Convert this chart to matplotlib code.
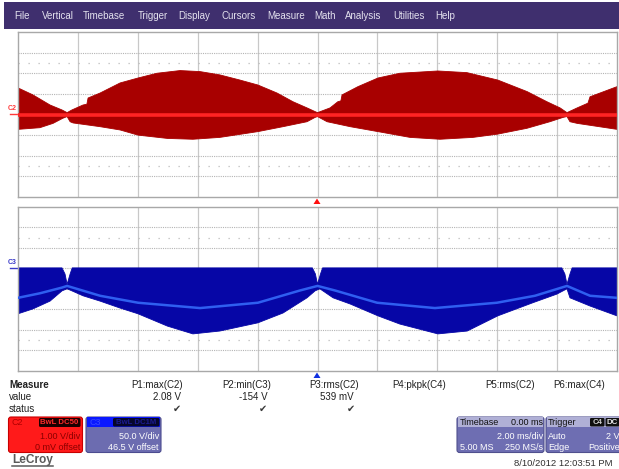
import matplotlib
matplotlib.use("Agg")
import matplotlib.pyplot as plt
from matplotlib.patches import Rectangle, FancyBboxPatch, Polygon

plt.rcParams['font.family'] = ['Liberation Sans', 'DejaVu Sans']

# ---------------- data ----------------
menu_items = ["File", "Vertical", "Timebase", "Trigger", "Display", "Cursors",
              "Measure", "Math", "Analysis", "Utilities", "Help"]

# C2 envelope (time in ms, volts), 1 V/div
c2_up_t = [-10.0, -9.5, -8.93, -8.53, -8.36, -8.20, -7.83, -7.70, -7.66, -7.26, -6.59, -5.99,
           -5.36, -4.59, -3.92, -3.26, -2.59, -1.99, -1.35, -0.82, -0.35, -0.08, 0.0, 0.42,
           0.68, 0.78, 0.82, 1.35, 2.02, 2.75, 4.02, 4.99, 6.02, 7.0, 7.66, 8.10, 8.33, 8.67,
           9.03, 9.10, 10.0]
c2_up_v = [1.29, 0.95, 0.46, 0.22, 0.09, 0.22, 0.46, 0.50, 0.80, 1.04, 1.53, 1.77,
           2.00, 2.13, 2.08, 1.92, 1.67, 1.43, 1.04, 0.62, 0.32, 0.14, 0.09, 0.32,
           0.62, 0.66, 0.95, 1.35, 1.77, 2.00, 2.11, 2.03, 1.67, 1.11, 0.62, 0.32, 0.09, 0.32,
           0.55, 0.86, 1.35]
c2_lo_t = [-10.0, -9.27, -8.83, -8.50, -8.36, -8.26, -8.16, -7.26, -6.59, -5.99, -5.01, -4.16,
           -3.26, -1.99, -1.15, -0.35, -0.08, 0.0, 0.32, 1.09, 2.02, 3.09, 4.09, 5.19, 6.02,
           6.99, 7.76, 8.20, 8.33, 8.43, 8.67, 10.0]
c2_lo_v = [-0.72, -0.64, -0.43, -0.18, -0.10, -0.35, -0.41, -0.59, -0.75, -1.00, -1.16, -1.20,
           -1.11, -0.83, -0.59, -0.35, -0.14, -0.10, -0.35, -0.59, -0.83, -1.11, -1.20, -1.11,
           -0.95, -0.67, -0.35, -0.14, -0.10, -0.35, -0.43, -0.72]

# C3 envelope (time in ms, volts), 50 V/div, 46.5 V offset
c3_up_t = [-10.0, -8.53, -8.43, -8.36, -8.26, -8.19, -0.17, -0.07, 0.0, 0.10, 0.17,
           8.16, 8.26, 8.33, 8.43, 8.50, 10.0]
c3_up_v = [5, 5, -10, -35, -10, 5, 5, -10, -35, -10, 5,
           5, -10, -35, -10, 5, 5]
c3_lo_t = [-10.0, -9.50, -8.93, -8.53, -8.36, -8.20, -7.83, -7.26, -6.59, -5.99, -5.01, -4.16,
           -3.26, -1.99, -1.15, -0.35, -0.08, 0.08, 0.52, 1.09, 2.02, 2.75, 4.02, 5.0, 6.02,
           7.19, 7.99, 8.33, 8.43, 9.10, 10.0]
c3_lo_v = [-107, -95, -76, -51, -46, -51, -63, -76, -93, -107, -137, -156,
           -149, -129, -105, -68, -51, -46, -68, -83, -112, -132, -156, -149, -112,
           -80, -59, -46, -68, -88, -112]
c3_mean_t = [-10.0, -9.27, -8.53, -8.36, -7.26, -5.99, -3.92, -1.99, -0.58, 0.0, 0.58,
             1.99, 3.92, 5.99, 7.26, 8.33, 9.10, 10.0]
c3_mean_v = [-68, -57, -43, -39, -63, -80, -93, -80, -50, -39, -50,
             -80, -93, -80, -63, -39, -63, -68]

meas_headers = ["P1:max(C2)", "P2:min(C3)", "P3:rms(C2)", "P4:pkpk(C4)", "P5:rms(C2)", "P6:max(C4)"]
meas_values = ["2.08 V", "-154 V", "539 mV", "", "", ""]
meas_status = [True, True, True, False, False, False]

# ---------------- figure ----------------
W, H = 619, 469
fig = plt.figure(figsize=(W / 100, H / 100), dpi=100)
fig.patch.set_facecolor("white")

bg = fig.add_axes([0, 0, 1, 1])
bg.set_xlim(0, W)
bg.set_ylim(H, 0)
bg.axis("off")

# menu bar
bg.add_patch(Rectangle((4, 2), W - 4, 27, facecolor="#3f2f6e", edgecolor="none"))
menu_x = [13.8, 42.2, 82.9, 137.4, 178.4, 221, 266.9, 314.3, 345.4, 392.8, 435.5]
for x, s in zip(menu_x, menu_items):
    bg.text(x, 16, s, color="#e4e2ee", fontsize=7.0, va="center", ha="left")


def scope_axes(top, bottom):
    ax = fig.add_axes([18 / W, 1 - bottom / H, (617 - 18) / W, (bottom - top) / H])
    ax.set_facecolor("white")
    ax.set_xticks([])
    ax.set_yticks([])
    for sp in ax.spines.values():
        sp.set_color("#a8a8a8")
        sp.set_linewidth(1.0)
    return ax


def draw_grid(ax, y0, ydiv):
    for k in range(1, 10):
        ax.axvline(-10 + 2 * k, color="#c8c8c8", lw=0.9, zorder=0)
    for k in range(1, 8):
        ax.axhline(y0 + (k - 4) * ydiv, color="#b4b4b4", lw=0.8,
                   linestyle=(0, (1, 1)), zorder=0)
    for k in (-2.5, 2.5):
        ax.axhline(y0 + k * ydiv, color="#bcbcbc", lw=0.9,
                   linestyle=(0, (1, 7)), zorder=0)


# top plot (C2)
ax1 = scope_axes(32, 197)
ax1.set_xlim(-10, 10)
ax1.set_ylim(-4, 4)
draw_grid(ax1, 0, 1)
ax1.fill(c2_up_t + c2_lo_t[::-1], c2_up_v + c2_lo_v[::-1],
         facecolor="#a80000", edgecolor="#a80000", lw=0.6, zorder=2)
ax1.axhline(0, color="#ff2424", lw=2.6, zorder=3)

# bottom plot (C3)
ax2 = scope_axes(207, 371)
ax2.set_xlim(-10, 10)
ax2.set_ylim(-200 - 46.5, 200 - 46.5)
draw_grid(ax2, -46.5, 50)
ax2.fill(c3_up_t + c3_lo_t[::-1], c3_up_v + c3_lo_v[::-1],
         facecolor="#0606a6", edgecolor="#0606a6", lw=0.6, zorder=2)
ax2.plot(c3_mean_t, c3_mean_v, color="#2f5ff0", lw=1.8, zorder=3)

# channel markers
bg.text(8, 109, "C2", color="#ff3a3a", fontsize=5, fontweight="bold", va="center")
bg.plot([10, 17], [114.5, 114.5], color="#ff3a3a", lw=1)
bg.text(8, 263, "C3", color="#3a3ac8", fontsize=5, fontweight="bold", va="center")
bg.plot([10, 17], [268.5, 268.5], color="#3a3ac8", lw=1)

# trigger markers
bg.add_patch(Polygon([[313.5, 204], [320.5, 204], [317, 198.5]], closed=True,
                     facecolor="#ff1010", edgecolor="none"))
bg.add_patch(Polygon([[313.5, 378], [320.5, 378], [317, 372.5]], closed=True,
                     facecolor="#1030e0", edgecolor="none"))

# measurement table
fs = 7
bg.text(9, 385, "Measure", fontsize=fs, fontweight="bold", va="center", color="#202020")
bg.text(9, 397, "value", fontsize=fs, va="center", color="#202020")
bg.text(9, 409, "status", fontsize=fs, va="center", color="#202020")
head_left = [131, 222, 309, 392, 485, 553]
val_right = [181, 268, 354]
chk_x = [177, 263, 351]
for i, h in enumerate(meas_headers):
    bg.text(head_left[i], 385, h, fontsize=fs, va="center", ha="left", color="#202020")
    if meas_values[i]:
        bg.text(val_right[i], 397, meas_values[i], fontsize=fs, va="center", ha="right",
                color="#202020")
    if meas_status[i]:
        bg.text(chk_x[i], 409, "\u2714", fontsize=7, va="center", ha="center",
                color="#3a3a3a", family="DejaVu Sans")


def rbox(x, y, w, h, fc, ec="none", r=2.5, z=1):
    bg.add_patch(FancyBboxPatch((x, y), w, h, boxstyle=f"round,pad=0,rounding_size={r}",
                                facecolor=fc, edgecolor=ec, lw=0.8, zorder=z))


bfs = 6.5
# C2 box
rbox(8.5, 417, 74, 35.5, "#ff1a1a", "#c80000")
rbox(39, 418, 41.5, 9, "#1a0000", r=1.5, z=2)
bg.text(12, 422.5, "C2", fontsize=bfs, color="#b00000", va="center", zorder=3)
bg.text(59.5, 422.5, "BwL DC50", fontsize=5.6, color="#ff2a2a", va="center", ha="center",
        fontweight="bold", zorder=3)
bg.text(80.5, 436.5, "1.00 V/div", fontsize=bfs, color="#8a0000", va="center", ha="right", zorder=3)
bg.text(80.5, 447, "0 mV offset", fontsize=bfs, color="#8a0000", va="center", ha="right", zorder=3)

# C3 box
rbox(86, 417, 75, 35.5, "#6c6cb0", "#4c4c90")
bg.add_patch(Rectangle((87, 417.5), 73, 9.5, facecolor="#0a18ff", edgecolor="none", zorder=2))
rbox(113, 418, 46.5, 8.5, "#06062a", r=1.5, z=2)
bg.text(90, 422.5, "C3", fontsize=bfs, color="#3848ff", va="center", zorder=3)
bg.text(136, 422.5, "BwL DC1M", fontsize=5.6, color="#1a1a90", va="center", ha="center",
        fontweight="bold", zorder=3)
bg.text(159, 436.5, "50.0 V/div", fontsize=bfs, color="white", va="center", ha="right", zorder=3)
bg.text(159, 447, "46.5 V offset", fontsize=bfs, color="white", va="center", ha="right", zorder=3)

# LeCroy logo
bg.text(12, 460.5, "LeCroy", fontsize=8.6, fontweight="bold", color="#5a5a5a", va="center")
bg.plot([12, 53], [466.5, 466.5], color="#5a5a5a", lw=1.1)

# Timebase box
rbox(457, 417, 87, 35.5, "#6e6eb2", "#50508e")
bg.add_patch(Rectangle((458, 417.5), 85, 10, facecolor="#b0b0d6", edgecolor="none", zorder=2))
bg.text(459.5, 422.5, "Timebase", fontsize=bfs, color="#101010", va="center", zorder=3)
bg.text(543, 422.5, "0.00 ms", fontsize=bfs, color="#101010", va="center", ha="right", zorder=3)
bg.text(543, 436.5, "2.00 ms/div", fontsize=bfs, color="white", va="center", ha="right", zorder=3)
bg.text(459.5, 447, "5.00 MS", fontsize=bfs, color="white", va="center", zorder=3)
bg.text(543, 447, "250 MS/s", fontsize=bfs, color="white", va="center", ha="right", zorder=3)

# Trigger box
rbox(546, 417, 78, 35.5, "#6e6eb2", "#50508e")
bg.add_patch(Rectangle((547, 417.5), 76, 10, facecolor="#b0b0d6", edgecolor="none", zorder=2))
bg.text(548, 422.5, "Trigger", fontsize=bfs, color="#101010", va="center", zorder=3)
rbox(590, 418, 14.5, 8.5, "#101010", r=1.2, z=3)
rbox(605.5, 418, 14, 8.5, "#101010", r=1.2, z=3)
bg.text(597.2, 422.5, "C4", fontsize=5.6, color="#d0d0d0", va="center", ha="center",
        fontweight="bold", zorder=4)
bg.text(612.5, 422.5, "DC", fontsize=5.6, color="#e8e8e8", va="center", ha="center",
        fontweight="bold", zorder=4)
bg.text(548, 436.5, "Auto", fontsize=bfs, color="white", va="center", zorder=3)
bg.text(620, 436.5, "2 V", fontsize=bfs, color="white", va="center", ha="right", zorder=3)
bg.text(548, 447, "Edge", fontsize=bfs, color="white", va="center", zorder=3)
bg.text(620, 447, "Positive", fontsize=bfs, color="white", va="center", ha="right", zorder=3)

# date
bg.text(612, 463.5, "8/10/2012 12:03:51 PM", fontsize=6.8, color="#303030", va="center", ha="right")

fig.savefig("out.png", dpi=100)
